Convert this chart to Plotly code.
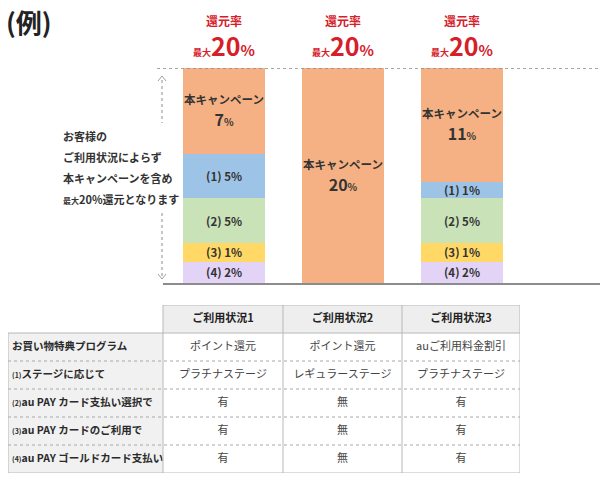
import plotly.graph_objects as go

FONT = "Noto Sans CJK JP"
RED = "#d5202a"

# usage cases (columns of the chart and the table)
cases = ["ご利用状況1", "ご利用状況2", "ご利用状況3"]

# stacked segments, bottom to top; heights as drawn (full bar = 20)
seg_names = ["(4)", "(3)", "(2)", "(1)", "本キャンペーン"]
seg_colors = ["#e3d3f6", "#ffd866", "#c9e2b8", "#9dc3e6", "#f5b183"]
seg_heights = [
    [2.0, 0.0, 2.0],
    [1.7, 0.0, 1.7],
    [4.2, 0.0, 4.2],
    [4.1, 0.0, 1.5],
    [8.0, 20.0, 10.6],
]
# rate printed on each segment (%)
seg_rates = [
    [2, None, 2],
    [1, None, 1],
    [5, None, 5],
    [5, None, 1],
    [7, 20, 11],
]
max_rate = [20, 20, 20]

# table
row_labels = [
    "お買い物特典プログラム",
    "(1)ステージに応じて",
    "(2)au PAY カード支払い選択で",
    "(3)au PAY カードのご利用で",
    "(4)au PAY ゴールドカード支払い",
]
table_cols = [
    ["ポイント還元", "プラチナステージ", "有", "有", "有"],
    ["ポイント還元", "レギュラーステージ", "無", "無", "無"],
    ["auご利用料金割引", "プラチナステージ", "有", "有", "有"],
]
col_widths = [155, 120, 119, 118]

W, H = 600, 479


def px(x):
    return x / W


def py(y):
    return 1 - y / H


fig = go.Figure()

# ---- stacked bars -------------------------------------------------------
for name, color, heights, rates in zip(seg_names, seg_colors, seg_heights, seg_rates):
    campaign = name == "本キャンペーン"
    texts = ["" if (r is None or campaign) else f"<b>{name} {r}%</b>" for r in rates]
    fig.add_trace(
        go.Bar(
            x=cases,
            y=heights,
            name=name,
            marker=dict(color=color, line=dict(width=0)),
            text=texts,
            textposition="inside",
            insidetextanchor="middle",
            textangle=0,
            textfont=dict(family=FONT, size=11.5, color="#333333"),
            hoverinfo="skip",
        )
    )

# campaign label in the middle of the top segment
for k, c in enumerate(cases):
    below = sum(h[k] for h in seg_heights[:-1])
    mid = below + seg_heights[-1][k] / 2
    fig.add_annotation(
        x=c, xref="x", y=mid, yref="y", showarrow=False,
        xanchor="center", yanchor="middle",
        text=(
            "<b><span style='font-size:11.5px'>本キャンペーン</span><br>"
            f"<span style='font-size:16px'>{seg_rates[-1][k]}</span>"
            "<span style='font-size:10px'>%</span></b>"
        ),
        font=dict(family=FONT, size=17, color="#333333"),
    )

# red header above each bar
for c, m in zip(cases, max_rate):
    fig.add_annotation(
        x=c, xref="x", y=py(20), yref="paper", showarrow=False,
        xanchor="center", yanchor="middle",
        text="<b>還元率</b>", font=dict(family=FONT, size=12, color=RED),
    )
    fig.add_annotation(
        x=c, xref="x", y=py(45), yref="paper", showarrow=False,
        xanchor="center", yanchor="middle",
        text=(
            "<b><span style='font-size:9px'>最大</span>"
            f"<span style='font-size:25px'>{m}</span>"
            "<span style='font-size:15px'>%</span></b>"
        ),
        font=dict(family=FONT, size=15, color=RED),
    )

fig.add_annotation(
    x=px(4), xref="paper", y=py(22), yref="paper",
    xanchor="left", yanchor="middle", showarrow=False,
    text="<b>(例)</b>", font=dict(family=FONT, size=26, color="#222222"),
)

side_lines = [
    "お客様の",
    "ご利用状況によらず",
    "本キャンペーンを含め",
    "<span style='font-size:8px'>最大</span>20%還元となります",
]
for i, line in enumerate(side_lines):
    fig.add_annotation(
        x=px(61), xref="paper", y=py(136 + i * 21), yref="paper",
        xanchor="left", yanchor="middle", showarrow=False,
        text=f"<b>{line}</b>", font=dict(family=FONT, size=11, color="#333333"),
    )

# dotted top line at the maximum
fig.add_shape(
    type="line", xref="paper", yref="y", x0=px(157), x1=1, y0=20, y1=20,
    line=dict(color="#8a8a8a", width=1.5, dash="dot"),
)
# dotted vertical arrow
arrow = dict(color="#a0a0a0", width=1.2, dash="dot")
fig.add_shape(type="line", xref="paper", yref="paper",
              x0=px(162), x1=px(162), y0=py(80), y1=py(123), line=arrow)
fig.add_shape(type="line", xref="paper", yref="paper",
              x0=px(162), x1=px(162), y0=py(213), y1=py(276), line=arrow)
chev = dict(color="#a0a0a0", width=1)
fig.add_shape(type="path", xref="paper", yref="paper", line=chev,
              path=f"M {px(158)} {py(81)} L {px(162)} {py(76)} L {px(166)} {py(81)}")
fig.add_shape(type="path", xref="paper", yref="paper", line=chev,
              path=f"M {px(158)} {py(274)} L {px(162)} {py(279)} L {px(166)} {py(274)}")

# ---- table on its own axes (x: column width units, y: row index) --------
edges = [0]
for w in col_widths:
    edges.append(edges[-1] + w)
n_rows = len(row_labels)
centers = [(edges[i] + edges[i + 1]) / 2 for i in range(len(col_widths))]
grey = "#b8b8b8"

# cell fills
for j in range(1, len(col_widths)):
    fig.add_shape(type="rect", xref="x2", yref="y2", layer="below",
                  x0=edges[j], x1=edges[j + 1], y0=0, y1=1,
                  fillcolor="#eeeeee", line=dict(width=0))
fig.add_shape(type="rect", xref="x2", yref="y2", layer="below",
              x0=edges[0], x1=edges[1], y0=1, y1=n_rows + 1,
              fillcolor="#f1f1f1", line=dict(width=0))

# dotted separators between body rows
for i in range(2, n_rows + 1):
    fig.add_shape(type="line", xref="x2", yref="y2", x0=edges[0], x1=edges[-1],
                  y0=i, y1=i, line=dict(color="#a8a8a8", width=1, dash="dot"))
# solid frame lines
solid = dict(color=grey, width=1)
fig.add_shape(type="line", xref="x2", yref="y2", x0=edges[1], x1=edges[-1],
              y0=0, y1=0, line=solid)
fig.add_shape(type="line", xref="x2", yref="y2", x0=edges[0], x1=edges[-1],
              y0=1, y1=1, line=solid)
fig.add_shape(type="line", xref="x2", yref="y2", x0=edges[0], x1=edges[-1],
              y0=n_rows + 1, y1=n_rows + 1, line=solid)
fig.add_shape(type="line", xref="x2", yref="y2", x0=edges[0], x1=edges[0],
              y0=1, y1=n_rows + 1, line=solid)
for e in edges[1:]:
    fig.add_shape(type="line", xref="x2", yref="y2", x0=e, x1=e,
                  y0=0, y1=n_rows + 1, line=solid)

# header texts
fig.add_trace(go.Scatter(
    x=centers[1:], y=[0.5] * len(cases), xaxis="x2", yaxis="y2",
    mode="text", text=[f"<b>{c}</b>" for c in cases],
    textposition="middle center",
    textfont=dict(family=FONT, size=11, color="#222222"),
    hoverinfo="skip", cliponaxis=False,
))

# row labels
label_text = []
for lab in row_labels:
    if lab.startswith("("):
        label_text.append(f"<b><span style='font-size:7px'>{lab[:3]}</span>{lab[3:]}</b>")
    else:
        label_text.append(f"<b>{lab}</b>")
fig.add_trace(go.Scatter(
    x=[edges[0] + 4] * n_rows, y=[i + 1.5 for i in range(n_rows)],
    xaxis="x2", yaxis="y2", mode="text", text=label_text,
    textposition="middle right",
    textfont=dict(family=FONT, size=10.5, color="#2a2a2a"),
    hoverinfo="skip", cliponaxis=False,
))

# body values
for j, col in enumerate(table_cols):
    fig.add_trace(go.Scatter(
        x=[centers[j + 1]] * n_rows, y=[i + 1.5 for i in range(n_rows)],
        xaxis="x2", yaxis="y2", mode="text", text=col,
        textposition="middle center",
        textfont=dict(family=FONT, size=11, color="#444444"),
        hoverinfo="skip", cliponaxis=False,
    ))

fig.update_layout(
    width=W,
    height=H,
    margin=dict(l=0, r=0, t=0, b=0),
    barmode="stack",
    bargap=0.31,
    showlegend=False,
    paper_bgcolor="white",
    plot_bgcolor="white",
    uniformtext=dict(minsize=11.5, mode="show"),
    font=dict(family=FONT),
    xaxis=dict(
        domain=[px(163), 1], range=[-0.513, 3.16],
        showticklabels=False, showgrid=False, zeroline=False,
        showline=True, linecolor="#8c8c8c", linewidth=1.5, fixedrange=True,
    ),
    yaxis=dict(
        domain=[py(283), py(68)], range=[0, 20],
        showticklabels=False, showgrid=False, zeroline=False, fixedrange=True,
    ),
    xaxis2=dict(
        domain=[px(8), px(520)], range=[edges[0], edges[-1]], anchor="y2",
        visible=False, fixedrange=True,
    ),
    yaxis2=dict(
        domain=[py(473), py(305)], range=[n_rows + 1, 0], anchor="x2",
        visible=False, fixedrange=True,
    ),
)

# drop the default page margin so the figure sits at the window's corner
fig.write_html(
    "out.html",
    config={"displayModeBar": False},
    post_script="document.body.style.margin='0';",
)
